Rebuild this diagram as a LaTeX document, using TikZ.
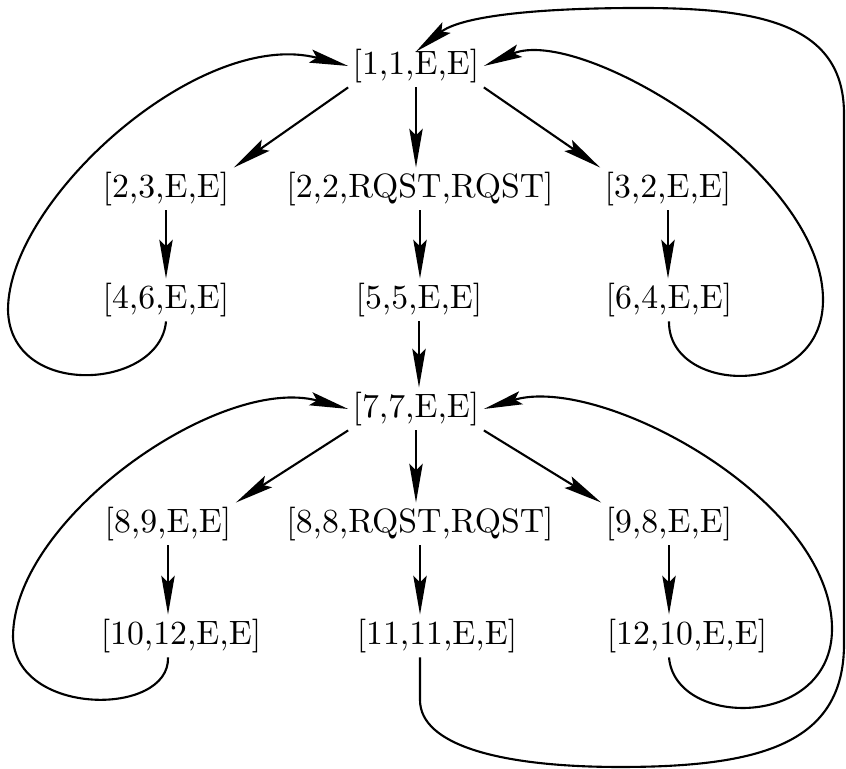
\documentclass[tikz,border=0pt]{standalone}
\usetikzlibrary{arrows.meta}

\begin{document}
\begin{tikzpicture}[line width=0.6pt, >={Stealth[length=11pt,width=3.8pt,inset=1.8pt]},
    every node/.style={inner sep=1pt, font=\fontsize{9.6}{11}\selectfont}]
    \useasboundingbox (0, 0) rectangle (8.46, 7.69);

    % Nodes
    \node at (4.16, 7.03) (n11) {[1,1,E,E]};
    \node at (1.66, 5.80) (n23) {[2,3,E,E]};
    \node at (4.20, 5.80) (n22) {[2,2,RQST,RQST]};
    \node at (6.68, 5.80) (n32) {[3,2,E,E]};
    \node at (1.66, 4.69) (n46) {[4,6,E,E]};
    \node at (4.19, 4.69) (n55) {[5,5,E,E]};
    \node at (6.69, 4.69) (n64) {[6,4,E,E]};

    \node at (4.16, 3.60) (n77) {[7,7,E,E]};
    \node at (1.68, 2.45) (n89) {[8,9,E,E]};
    \node at (4.20, 2.45) (n88) {[8,8,RQST,RQST]};
    \node at (6.69, 2.45) (n98) {[9,8,E,E]};
    \node at (1.81, 1.33) (n1012) {[10,12,E,E]};
    \node at (4.37, 1.33) (n1111) {[11,11,E,E]};
    \node at (6.87, 1.33) (n1210) {[12,10,E,E]};

    % Arrows
    \draw[->] (n11.south west) -- (n23.north east);
    \draw[->] (n11.south) -- (n11.south |- n22.north);
    \draw[->] (n11.south east) -- (n32.north west);
    \draw[->] (n23.south) -- (n23.south |- n46.north);
    \draw[->] (n22.south) -- (n22.south |- n55.north);
    \draw[->] (n32.south) -- (n32.south |- n64.north);
    \draw[->] (n55.south) -- (n55.south |- n77.north);

    \draw[->] (n77.south west) -- (n89.north east);
    \draw[->] (n77.south) -- (n77.south |- n88.north);
    \draw[->] (n77.south east) -- (n98.north west);
    \draw[->] (n89.south) -- (n89.south |- n1012.north);
    \draw[->] (n88.south) -- (n88.south |- n1111.north);
    \draw[->] (n98.south) -- (n98.south |- n1210.north);

    % Loops back
    \draw[->] (n46.south) .. controls (1.60, 3.79) and (0.10, 3.69) .. (0.08, 4.59)
        .. controls (0.08, 5.69) and (2.00, 7.42) .. (n11.west);
    \draw[->] (n64.south) .. controls (6.68, 3.74) and (8.23, 3.69) .. (8.23, 4.69)
        .. controls (8.23, 5.99) and (5.80, 7.44) .. (n11.east);
    \draw[->] (n1012.south -| n89) .. controls (1.70, 0.52) and (0.15, 0.52) .. (0.13, 1.32)
        .. controls (0.13, 2.50) and (2.20, 3.95) .. (n77.west);
    \draw[->] (n1210.south -| n98) .. controls (6.75, 0.40) and (8.32, 0.40) .. (8.32, 1.40)
        .. controls (8.32, 2.70) and (6.00, 3.95) .. (n77.east);
    \draw[->] (n1111.south -| n88) -- (4.20, 0.69)
        .. controls (4.20, 0.24) and (5.00, 0.02) .. (6.20, 0.02)
        .. controls (7.60, 0.02) and (8.44, 0.25) .. (8.44, 1.25) -- (8.44, 6.55)
        .. controls (8.44, 7.45) and (7.60, 7.61) .. (6.40, 7.61)
        .. controls (5.30, 7.61) and (4.60, 7.52) .. ([yshift=-2pt]n11.north);
\end{tikzpicture}
\end{document}
